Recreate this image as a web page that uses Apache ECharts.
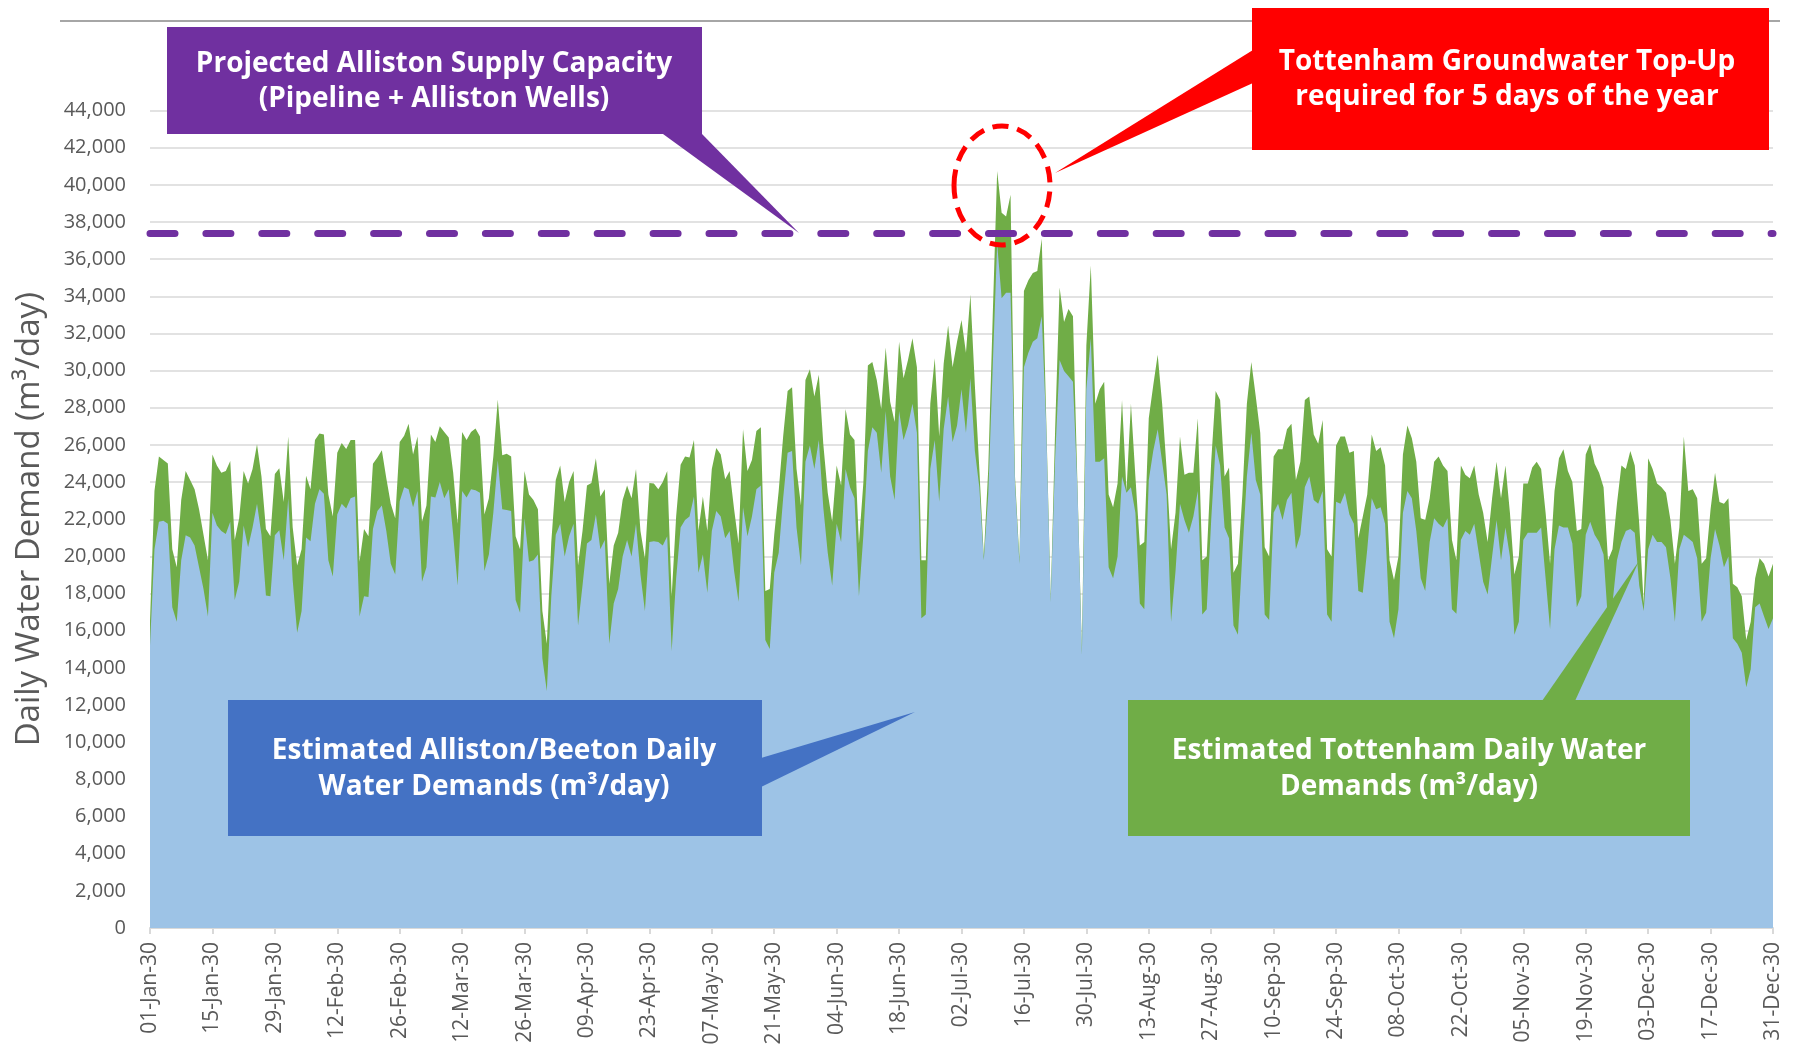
<!DOCTYPE html>
<html>
<head>
<meta charset="utf-8">
<title>Daily Water Demand 2030</title>
<script src="https://cdn.jsdelivr.net/npm/echarts@6/dist/echarts.min.js"></script>
<style>
  html, body { margin: 0; padding: 0; background: #ffffff; }
  #chart { width: 1795px; height: 1046px; }
</style>
</head>
<body>
<div id="chart"></div>
<script>
// daily demands for 2030, m3/day
// combined = Alliston/Beeton + Tottenham (top of the green area)
const combinedDemand = [
  16500, 23520, 25380, 25190, 25000, 20390, 19410, 23030, 24600, 24110, // 0
  23620, 22540, 21170, 19800, 25480, 24890, 24500, 24600, 25130, 20880,
  22050, 24600, 23920, 24700, 26030, 24300, 21470, 21080, 24440, 24740,
  22930, 26460, 21570, 19510, 20390, 24340, 23620, 26260, 26620, 26560,
  23330, 22150, 25580, 26100, 25780, 26260, 26260, 19710, 21470, 21080, // 40
  24990, 25320, 25720, 24210, 22840, 22050, 26160, 26500, 27140, 25480,
  26460, 21860, 22740, 26560, 26160, 27000, 26690, 26400, 24500, 21760,
  26690, 26260, 26690, 26890, 26460, 22250, 23130, 25380, 28450, 25440,
  25520, 25380, 21080, 20390, 24600, 23330, 23030, 22540, 17060, 15300, // 80
  20780, 24110, 24890, 22930, 24010, 24600, 19510, 21370, 23820, 23950,
  25280, 23230, 23620, 18530, 20590, 21270, 23030, 23820, 23130, 24700,
  21370, 19900, 23950, 23920, 23620, 24010, 24600, 17850, 22150, 24930,
  25380, 25320, 26260, 21370, 23230, 21370, 24700, 25830, 25480, 24150, // 120
  24600, 22540, 20690, 26850, 24600, 25190, 26750, 26950, 18140, 18240,
  21170, 23520, 26460, 28900, 29100, 24700, 22740, 29490, 30080, 28610,
  29780, 26070, 23420, 21860, 24890, 23820, 27930, 26560, 26260, 20690,
  24010, 30270, 30470, 29490, 27930, 31250, 28320, 27240, 31550, 29590, // 160
  30570, 31740, 30180, 19800, 19800, 28220, 30660, 26460, 30370, 32430,
  30180, 31550, 32720, 30960, 34090, 29200, 24700, 20000, 24700, 32920,
  40740, 38490, 38300, 39470, 24300, 19800, 34290, 34870, 35260, 35360,
  37100, 27440, 17650, 26850, 34480, 32620, 33310, 32920, 23920, 14910, // 200
  31350, 35660, 28220, 29000, 29400, 23330, 22640, 23920, 28420, 23520,
  28220, 24300, 20590, 20780, 27440, 29200, 30860, 28220, 24700, 20390,
  22350, 26460, 24400, 24500, 24500, 27440, 19800, 20000, 25090, 28900,
  28420, 24300, 24790, 19120, 19610, 23330, 28220, 30470, 28610, 26650, // 240
  20490, 20000, 25380, 25770, 25770, 26850, 27140, 24110, 25090, 28420,
  28610, 26560, 26070, 27340, 20390, 20000, 25970, 26460, 26460, 25580,
  25680, 20980, 22150, 23330, 26560, 25680, 25870, 24890, 19800, 18730,
  20000, 25480, 27050, 26360, 25090, 22050, 21960, 23130, 25090, 25380, // 280
  24890, 24600, 20880, 19800, 24890, 24400, 24210, 24890, 23330, 22350,
  20780, 23130, 25090, 23130, 24890, 22350, 19020, 20000, 23920, 23920,
  24790, 25090, 24700, 22350, 19610, 23520, 25280, 25770, 24600, 24010,
  21370, 21470, 25480, 26060, 24990, 24500, 23720, 19800, 20390, 22840, // 320
  24890, 24700, 25680, 24890, 21760, 17460, 25280, 24700, 23920, 23720,
  23420, 21960, 19610, 21570, 26460, 23520, 23620, 23130, 19610, 19900,
  22540, 24500, 22930, 22840, 23130, 18530, 18340, 17850, 15500, 16480,
  18820, 19900, 19610, 18920, 19610                                     // 360
];

// Alliston/Beeton part (top of the blue area)
const allistonDemand = [
  15200, 20390, 21860, 21920, 21760, 17260, 16480, 19800, 21140, 21020, // 0
  20590, 19410, 18240, 16770, 22350, 21660, 21370, 21210, 21860, 17650,
  18630, 21660, 20490, 21560, 22840, 21170, 17890, 17850, 21140, 21410,
  19800, 23130, 18730, 15890, 17060, 21020, 20820, 22840, 23620, 23370,
  19800, 18920, 22250, 22840, 22580, 23130, 23230, 16770, 17850, 17810, // 40
  21470, 22450, 22740, 21370, 19610, 19020, 22970, 23720, 23620, 22640,
  23520, 18630, 19410, 23230, 23170, 24010, 23130, 23620, 21170, 18430,
  23520, 23170, 23620, 23560, 23420, 19220, 20100, 22350, 25180, 22540,
  22500, 22450, 17650, 16970, 22050, 19710, 19800, 20100, 14520, 12760, // 80
  17850, 21170, 21760, 20000, 21080, 21760, 16280, 18430, 20690, 20880,
  22250, 20390, 20880, 15300, 17460, 18240, 20000, 20880, 20000, 21760,
  19020, 17060, 20780, 20820, 20780, 20590, 21080, 14910, 18820, 21560,
  21960, 22150, 23230, 19120, 20100, 18040, 21370, 22450, 22150, 20980, // 120
  21370, 19220, 17560, 22640, 21080, 22150, 23620, 23820, 15500, 15010,
  19120, 20200, 23130, 25580, 25680, 21560, 19510, 25090, 25970, 24700,
  26260, 22640, 20200, 18430, 21760, 20780, 24700, 23720, 23130, 17850,
  21170, 25680, 26950, 26650, 24500, 27830, 24300, 23030, 27830, 26260, // 160
  27050, 28220, 26650, 16670, 16870, 24700, 26260, 22940, 26850, 28610,
  26160, 27050, 29000, 26650, 29590, 25680, 23720, 19800, 23330, 30180,
  36830, 33900, 34190, 34190, 23920, 19610, 30180, 30960, 31550, 31740,
  32920, 27050, 17550, 25280, 30570, 29980, 29690, 29400, 23720, 14710, // 200
  29000, 31740, 25090, 25090, 25280, 19410, 18820, 20000, 24300, 23420,
  23720, 22350, 17460, 17160, 24110, 25680, 26850, 25090, 23330, 16480,
  19220, 22840, 21960, 21270, 22150, 23520, 16870, 17160, 21960, 25970,
  24890, 21560, 20980, 16280, 15790, 20200, 24300, 26650, 24110, 23330, // 240
  16870, 16580, 22350, 22840, 21960, 23030, 23420, 20390, 21170, 23720,
  24300, 23030, 22840, 23520, 16870, 16480, 22940, 22840, 23420, 22250,
  21760, 18140, 18040, 20390, 23130, 22540, 22640, 21760, 16480, 15600,
  17160, 22350, 23520, 23130, 21370, 18820, 18140, 20780, 22050, 21760, // 280
  21560, 22050, 17160, 16910, 20880, 21370, 21170, 21760, 20200, 18630,
  17950, 20000, 21960, 19800, 21560, 20000, 15790, 16480, 20880, 21270,
  21270, 21270, 21560, 18820, 16090, 20390, 21660, 21560, 21560, 20690,
  17260, 17850, 21170, 21860, 21170, 20780, 20100, 16480, 17460, 19800, // 320
  20780, 21370, 21470, 21270, 18430, 17060, 20390, 21170, 20780, 20780,
  20490, 18820, 16480, 20390, 21170, 20980, 20780, 19900, 16480, 16970,
  19900, 21470, 20590, 19410, 20000, 15600, 15300, 14810, 12960, 13930,
  17260, 17460, 16770, 16090, 16670                                     // 360
];

const supplyCapacity = 37400;   // pipeline + Alliston wells

const monthNames = ['Jan', 'Feb', 'Mar', 'Apr', 'May', 'Jun', 'Jul', 'Aug', 'Sep', 'Oct', 'Nov', 'Dec'];
const dayLabels = [];
for (let d = new Date(Date.UTC(2030, 0, 1)); d.getUTCFullYear() === 2030; d.setUTCDate(d.getUTCDate() + 1)) {
  dayLabels.push(String(d.getUTCDate()).padStart(2, '0') + '-' + monthNames[d.getUTCMonth()] + '-30');
}

const font = '"Open Sans", "Noto Sans", sans-serif';
const boxFont = 'bold 28px ' + font;

let myChart = echarts.init(document.getElementById('chart'));
myChart.setOption({
  animation: false,
  backgroundColor: '#ffffff',
  grid: { left: 150, right: 22, top: 110.5, bottom: 118, outerBoundsMode: 'none' },
  xAxis: {
    type: 'category',
    data: dayLabels,
    boundaryGap: false,
    axisLine: { lineStyle: { color: '#D9D9D9', width: 2 } },
    axisTick: { interval: 13, length: 6, lineStyle: { color: '#D9D9D9', width: 2 } },
    axisLabel: { interval: 13, rotate: 90, margin: 14, color: '#595959', fontSize: 21, fontFamily: font },
    splitLine: { show: false }
  },
  yAxis: {
    type: 'value',
    min: 0,
    max: 44000,
    interval: 2000,
    name: 'Daily Water Demand (m³/day)',
    nameLocation: 'middle',
    nameGap: 104,
    nameTextStyle: { color: '#595959', fontSize: 33, fontFamily: font },
    axisLine: { show: false },
    axisTick: { show: false },
    axisLabel: {
      margin: 24, color: '#595959', fontSize: 20, fontFamily: font,
      formatter: v => v.toLocaleString('en-US')
    },
    splitLine: { lineStyle: { color: '#D9D9D9', width: 1.5 } }
  },
  series: [
    {
      name: 'Estimated Tottenham Daily Water Demands',
      type: 'line',
      data: combinedDemand,
      symbol: 'none',
      lineStyle: { width: 0 },
      areaStyle: { color: '#70AD47', opacity: 1 }
    },
    {
      name: 'Estimated Alliston/Beeton Daily Water Demands',
      type: 'line',
      data: allistonDemand,
      symbol: 'none',
      lineStyle: { width: 0 },
      areaStyle: { color: '#9DC3E6', opacity: 1 },
      markLine: {
        silent: true,
        symbol: ['none', 'none'],
        label: { show: false },
        lineStyle: { color: '#7030A0', width: 7, type: [25, 30.9], cap: 'round' },
        data: [{ yAxis: supplyCapacity }]
      }
    }
  ],
  graphic: {
    elements: [
      // thin rule across the top of the slide
      { type: 'line', z: 100, shape: { x1: 60, y1: 21, x2: 1780, y2: 21 }, style: { stroke: '#A6A6A6', lineWidth: 2 } },

      // capacity callout
      { type: 'polygon', z: 100, shape: { points: [[663, 134], [702, 134], [799, 233]] }, style: { fill: '#7030A0' } },
      { type: 'rect', z: 100, shape: { x: 167, y: 27, width: 535, height: 107 }, style: { fill: '#7030A0' } },
      { type: 'text', z: 101, style: { text: 'Projected Alliston Supply Capacity\n(Pipeline + Alliston Wells)', x: 434, y: 82,
        textAlign: 'center', textVerticalAlign: 'middle', lineHeight: 35, font: boxFont, fill: '#ffffff' } },

      // top-up callout
      { type: 'ellipse', z: 100, shape: { cx: 1002, cy: 185.5, rx: 48, ry: 59.5 },
        style: { fill: 'none', stroke: '#FF0000', lineWidth: 5, lineDash: [16, 9] } },
      { type: 'polygon', z: 100, shape: { points: [[1253, 50], [1253, 83], [1055, 173]] }, style: { fill: '#FF0000' } },
      { type: 'rect', z: 100, shape: { x: 1252, y: 8, width: 517, height: 142 }, style: { fill: '#FF0000' } },
      { type: 'text', z: 101, style: { text: 'Tottenham Groundwater Top-Up\nrequired for 5 days of the year', x: 1507, y: 80,
        textAlign: 'center', textVerticalAlign: 'middle', lineHeight: 35, font: boxFont, fill: '#ffffff' } },

      // Alliston/Beeton callout
      { type: 'polygon', z: 100, shape: { points: [[761, 758], [761, 787], [915, 712]] }, style: { fill: '#4472C4' } },
      { type: 'rect', z: 100, shape: { x: 228, y: 700, width: 534, height: 136 }, style: { fill: '#4472C4' } },
      { type: 'text', z: 101, style: { text: 'Estimated Alliston/Beeton Daily\nWater Demands (m³/day)', x: 494, y: 769,
        textAlign: 'center', textVerticalAlign: 'middle', lineHeight: 36, font: boxFont, fill: '#ffffff' } },

      // Tottenham callout
      { type: 'polygon', z: 100, shape: { points: [[1542, 701], [1575, 701], [1639, 561]] }, style: { fill: '#70AD47' } },
      { type: 'rect', z: 100, shape: { x: 1128, y: 700, width: 562, height: 136 }, style: { fill: '#70AD47' } },
      { type: 'text', z: 101, style: { text: 'Estimated Tottenham Daily Water\nDemands (m³/day)', x: 1409, y: 769,
        textAlign: 'center', textVerticalAlign: 'middle', lineHeight: 36, font: boxFont, fill: '#ffffff' } }
    ]
  }
});
</script>
</body>
</html>
